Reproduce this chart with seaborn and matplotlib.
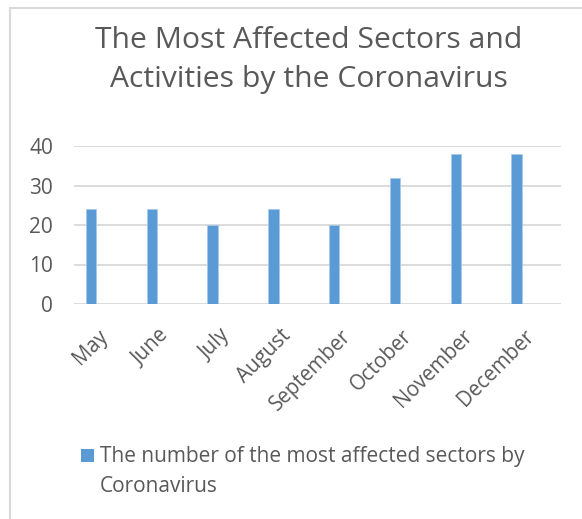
import matplotlib
matplotlib.use("Agg")
import matplotlib.pyplot as plt
import matplotlib.transforms as mtransforms
from matplotlib.lines import Line2D
from matplotlib.patches import Rectangle
import seaborn as sns
import pandas as pd

months = ["May", "June", "July", "August", "September", "October", "November", "December"]
values = [24, 24, 20, 24, 20, 32, 38, 38]
series_label = "The number of the most affected sectors by\nCoronavirus"
title = "The Most Affected Sectors and\nActivities by the Coronavirus"

sns.set_theme(style="white")
plt.rcParams["font.family"] = ["Open Sans", "DejaVu Sans"]

TEXT = "#595959"
GRID = "#D9D9D9"
BAR = "#5B9BD5"

W, H = 582, 519
fig = plt.figure(figsize=(W / 100, H / 100), dpi=100)
ax = fig.add_axes([74 / W, 1 - 304 / H, (561 - 74) / W, (304 - 146) / H])

df = pd.DataFrame({"month": months, "value": values})
sns.barplot(data=df, x="month", y="value", color=BAR, width=0.17, ax=ax,
            saturation=1, edgecolor="#A9C8E8", linewidth=0.5)

ax.set_ylim(0, 40)
ax.set_xlim(-0.28, 7.73)
ax.set_yticks([0, 10, 20, 30, 40])
ax.yaxis.grid(True, color=GRID, linewidth=1.3)
ax.set_axisbelow(True)
for s in ax.spines.values():
    s.set_visible(False)
ax.set_xlabel("")
ax.set_ylabel("")
ax.tick_params(axis="both", length=0, colors=TEXT)
ax.tick_params(axis="y", labelsize=15, pad=15)
ax.tick_params(axis="x", labelsize=14.8)

offset = mtransforms.ScaledTranslation(14 / 100, -24 / 100, fig.dpi_scale_trans)
for lab in ax.get_xticklabels():
    lab.set_rotation(45)
    lab.set_ha("right")
    lab.set_va("center")
    lab.set_rotation_mode("anchor")
    lab.set_transform(lab.get_transform() + offset)
    lab.set_color(TEXT)

fig.text(309 / W, 1 - 60 / H, title, ha="center", va="center", fontsize=21.7,
         color=TEXT, linespacing=1.44)

# legend (handle aligned with first text line, as in the reference)
fig.add_artist(Rectangle((81 / W, 1 - 462 / H), 13 / W, 13 / H, facecolor=BAR,
                         edgecolor="none", transform=fig.transFigure))
fig.text(100 / W, 1 - 446 / H, series_label, ha="left", va="top",
         fontsize=15, color=TEXT, linespacing=1.57)

fig.add_artist(Line2D([9.5 / W, 1], [1 - 7.5 / H] * 2, color=GRID, linewidth=1.5,
                      transform=fig.transFigure))
fig.add_artist(Line2D([9.5 / W] * 2, [0, 1 - 7.5 / H], color=GRID, linewidth=1.5,
                      transform=fig.transFigure))

fig.savefig("out.png", dpi=100, facecolor="white")
